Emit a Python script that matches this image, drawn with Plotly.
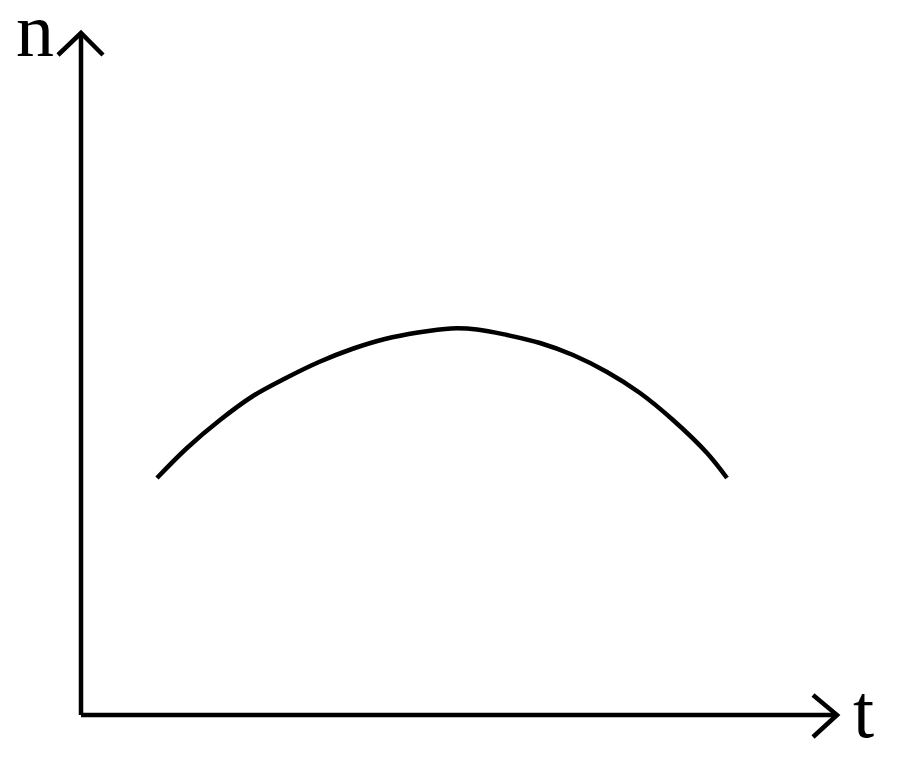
import plotly.graph_objects as go

# curve (t along the horizontal axis, n up the vertical one)
t_vals = [7.6, 10.6, 13.9, 17.2, 20.5, 23.8, 27.1, 30.4, 33.7, 37.0,
          39.6, 42.6, 45.9, 49.2, 52.6, 55.9, 59.2, 62.6, 64.6]
n_vals = [23.7, 26.7, 29.5, 31.9, 33.7, 35.3, 36.6, 37.6, 38.25, 38.65,
          38.55, 38.0, 37.2, 36.0, 34.3, 32.2, 29.5, 26.2, 23.7]

axis_labels = ["t", "n"]
t_max = 75.6
n_max = 68.2

fig = go.Figure()

fig.add_trace(go.Scatter(
    x=t_vals, y=n_vals, mode="lines",
    line=dict(color="black", width=4.5, shape="spline", smoothing=1.0),
    hoverinfo="skip", showlegend=False,
))

ax = dict(color="black", width=4.5)
# axes
fig.add_shape(type="line", x0=0, y0=0, x1=t_max, y1=0, line=ax)
fig.add_shape(type="line", x0=0, y0=0, x1=0, y1=n_max, line=ax)
# open arrow heads
fig.add_shape(type="path", path=f"M {t_max-2.4},2.0 L {t_max},0 L {t_max-2.4},-2.2", line=ax)
fig.add_shape(type="path", path=f"M -2.3,{n_max-2.2} L 0,{n_max} L 2.2,{n_max-2.2}", line=ax)

lab_font = dict(family="Liberation Serif", size=76, color="black")
fig.add_annotation(x=t_max + 2.6, y=0.4, text=axis_labels[0], showarrow=False,
                   font=lab_font, xanchor="center", yanchor="middle")
fig.add_annotation(x=-4.6, y=n_max + 0.3, text=axis_labels[1], showarrow=False,
                   font=lab_font, xanchor="center", yanchor="middle")

# the page has an 8px body margin, so the ranges are offset to match
fig.update_layout(
    width=900, height=763,
    margin=dict(l=0, r=0, t=0, b=0),
    paper_bgcolor="white", plot_bgcolor="white",
    xaxis=dict(range=[-7.3, 82.7], visible=False, fixedrange=True),
    yaxis=dict(range=[-5.6, 70.7], visible=False, fixedrange=True),
)

fig.write_html("out.html")
